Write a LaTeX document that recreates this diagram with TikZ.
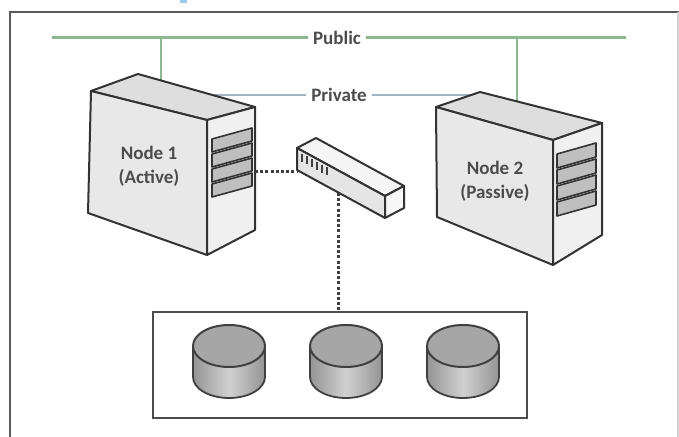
\documentclass[tikz,border=0pt]{standalone}
\usepackage{fontspec}
\setmainfont{Carlito}
\definecolor{pubgreen}{HTML}{8CB890}
\definecolor{privblue}{HTML}{A3B3C6}
\definecolor{tabblue}{HTML}{9CCBF0}
\begin{document}
\begin{tikzpicture}[x=0.5pt,y=-0.5pt,
    box/.style={draw=black!80, line width=1pt, line join=round},
    bay/.style={draw=black!80, line width=0.8pt, fill=black!25, line join=round},
    netlabel/.style={fill=white, inner xsep=2.5pt, inner ysep=1pt, text=black!70,
      font=\bfseries\fontsize{9.5}{11.5}\selectfont},
    nodetext/.style={align=center, text=black!70,
      font=\bfseries\fontsize{9.5}{12}\selectfont},
    dotlink/.style={line width=1.5pt, black!75, dash pattern=on 1.5pt off 1.1pt}]

        \useasboundingbox (0,0) rectangle (679,437);

        %Frame
        \draw [black!65, line width=0.8pt] (10,437) -- (10,12) -- (679,12);
        \draw [black!18, line width=0.8pt] (678,12) -- (678,437);
        \fill [tabblue] (180,0) rectangle (187,3);

        %Public
        \coordinate (pubw) at (52,38);
        \coordinate (pube) at (626,38);
        \coordinate (n1pub) at (161,81);
        \coordinate (n2pub) at (517,101);
        \draw [pubgreen, line width=1.5pt] (pubw) -- (pube);
        \draw [pubgreen, line width=1.2pt] (n1pub |- pubw) -- (n1pub);
        \draw [pubgreen, line width=1.2pt] (n2pub |- pubw) -- (n2pub);
        \node [netlabel] (pub) at (337,38) {Public};

        %Private
        \coordinate (n1priv) at (212,95);
        \coordinate (n2priv) at (471,95);
        \draw [privblue, line width=1pt] (n1priv) -- (n2priv);
        \node [netlabel] (priv) at (339,95) {Private};

        %Node 1
        \filldraw [box, fill=black!13] (91,91) -- (138,74) -- (255,107) -- (207,120) -- cycle; %top
        \filldraw [box, fill=black!9]  (91,91) -- (207,120) -- (207,255) -- (88,213) -- cycle; %front
        \filldraw [box, fill=black!6]  (207,120) -- (255,107) -- (255,230) -- (207,255) -- cycle; %side
        \foreach \i in {0,...,3}
          \filldraw [bay] (212,{139+15*\i}) -- (252,{128+15*\i}) -- (252,{141+15*\i}) -- (212,{152+15*\i}) -- cycle;
        \node [nodetext] (node1) at (149,166) {Node 1\\(Active)};
        \coordinate (n1port) at (255,172);

        %Node 2
        \filldraw [box, fill=black!13] (436,107) -- (480,92) -- (602,123) -- (553,140) -- cycle; %top
        \filldraw [box, fill=black!9]  (436,107) -- (553,140) -- (553,265) -- (437,217) -- cycle; %front
        \filldraw [box, fill=black!6]  (553,140) -- (602,123) -- (602,235) -- (553,265) -- cycle; %side
        \foreach \i in {0,...,3}
          \filldraw [bay] (557,{154+16*\i}) -- (596,{143+16*\i}) -- (596,{157+16*\i}) -- (557,{168+16*\i}) -- cycle;
        \node [nodetext] (node2) at (495,181) {Node 2\\(Passive)};

        %Switch
        \filldraw [box, fill=black!4]  (297,148) -- (316,138) -- (404,186) -- (385,196) -- cycle; %top
        \filldraw [box, fill=black!10] (297,148) -- (385,196) -- (385,218) -- (297,170) -- cycle; %front
        \filldraw [box, fill=black!3]  (385,196) -- (404,186) -- (404,208) -- (385,218) -- cycle; %end
        \foreach \x in {302,307,...,327}
          \draw [black!75, line width=0.8pt] (\x,{148+(\x-297)*0.545+3}) -- (\x,{148+(\x-297)*0.545+11});
        \coordinate (swleft) at (297,172);
        \coordinate (swbot) at (338,193);

        %Storage
        \draw [black!70, line width=1.1pt] (153,312) rectangle (527,418);
        \coordinate (stor) at (338,312);
        \foreach \cx in {229,346,463} {
          \shade [left color=black!42, right color=black!42, middle color=black!18]
            (\cx-36,346) -- (\cx-36,377) arc (180:360:36 and -21) -- (\cx+36,346) -- cycle;
          \draw [black!75, line width=0.9pt] (\cx-36,346) -- (\cx-36,377) arc (180:360:36 and -21) -- (\cx+36,346);
          \filldraw [black!75, line width=1pt, fill=black!35] (\cx,346) ellipse (36 and 21);
        }

        %Links
        \draw [dotlink] (n1port) -- (swleft);
        \draw [dotlink] (swbot) -- (stor);
      \end{tikzpicture}
\end{document}
